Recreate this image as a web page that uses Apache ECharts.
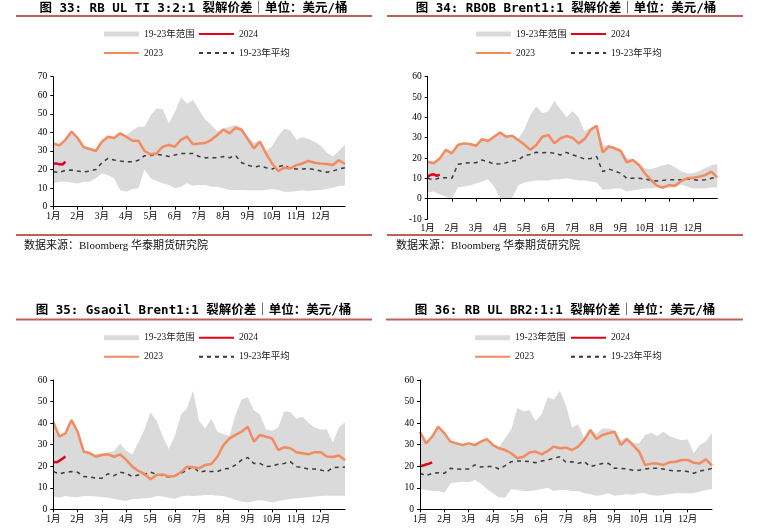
<!DOCTYPE html>
<html>
<head>
<meta charset="utf-8">
<script src="https://cdn.jsdelivr.net/npm/echarts@6/dist/echarts.min.js"></script>
<style>
html,body{margin:0;padding:0;background:#fff;}
#main{width:763px;height:528px;}
</style>
</head>
<body>
<div id="main"></div>
<script>
// ---------- data (x step: quarter month, 1月 = 0) ----------
const monthLabels = ['1月','2月','3月','4月','5月','6月','7月','8月','9月','10月','11月','12月'];
const STEP = 0.25;      // 19-23 range / average / 2023
const STEP24 = 0.125;   // 2024

const titles = [
  '图 33: RB UL TI 3:2:1 裂解价差｜单位：美元/桶',
  '图 34: RBOB Brent1:1 裂解价差｜单位：美元/桶',
  '图 35: Gsaoil Brent1:1 裂解价差｜单位：美元/桶',
  '图 36: RB UL BR2:1:1 裂解价差｜单位：美元/桶'
];
const sourceText = '数据来源：Bloomberg 华泰期货研究院';
const seriesNames = ['19-23年范围', '2024', '2023', '19-23年平均'];

// Panel 1: RB UL TI 3:2:1
const p1Upper = [34.5,33.5,36.5,41,37.5,33,32,31,35.5,38,37.5,40,38.5,41,43,43,49,53,52.5,45,51,59,55.5,57.5,52,47,44,40.5,42,43,44,42.5,38,34.5,35.5,30,32.5,38,42,41,36,37.5,36.5,35,33,29,27,30,33.5];
const p1Lower = [12.5,13.5,13.5,13,12.5,13.5,13.5,15.3,18,17,15.3,9,8.1,9.5,9.9,20,15.3,13.8,12.6,11.7,9.9,10.8,12.6,11.3,11.7,11.7,10.8,10.8,9.9,9,9,9,8.8,8.8,8.8,9,9.5,9,8.1,8.1,8.4,8.8,8.4,8.8,9,9.5,10.2,11.3,11.3];
const p1Avg = [18.8,18.5,19.6,19.7,19.2,18.8,19.2,20,23.7,26,25.1,24.6,24.2,24.2,25,27.5,27.5,28.2,27.8,27,27.8,28.7,28.7,28.7,27,26.4,26.4,26.4,27,26.4,27.5,23.7,22.4,21.4,21.9,21,20.3,21.5,22.4,20.6,20.3,20.3,20.6,20,19.2,18.5,19.2,20.3,21];
const p1Y2023 = [34,33,36,40.5,37,32,31,30,35,37.7,37,39.5,37.7,35.5,35.5,30,28.2,28.7,32.3,33.2,32.3,36,37.7,33.6,34,34.3,36,38.6,41.6,39.5,42.5,41.3,36.4,31.4,35,28.7,23.3,19.2,21,20.6,22.4,23.3,24.6,23.7,23.3,23,22.4,25,23];
const p1Y2024 = [23.2,23.3,22.8,22.7,24.2];

// Panel 2: RBOB Brent 1:1
const p2Upper = [18.5,18,20,24.5,23,27,27.5,27.5,26.5,29.5,29,31,33,31,31.5,29.5,34,41,45.5,42,43,48,44,40,43,40,33,35,36.5,26,26.5,25.5,24.5,20,19.5,17.5,15,14.5,15.5,16.5,17,15.5,13.5,12.5,12.5,13.5,15,16.5,17];
const p2Lower = [3,3.5,2,1,0,5.5,6,6.5,7.5,8.5,9.5,6,0.3,0,0.5,6.5,8,8.5,9,9,9,9.5,9.5,10,9.5,9,9,8.5,8,4.5,4.5,5,5,3.5,4,4.5,5,5,5.5,5,5.5,5.5,7,6,5,5,5,5.5,5.5];
const p2Avg = [10,9.2,10.3,10.3,10,16.9,17.4,17.7,17.7,19,18.2,17,17.2,17.7,18.5,19,21.1,21.8,22.8,22.6,22.8,22.3,21.5,22.8,21.5,20.7,19.5,19.8,20.7,13.3,14.6,13.6,12.5,10,10,10,9.7,9,8.7,9,9.3,9.3,9.3,9.7,9.3,9,9.3,10,10.8];
const p2Y2023 = [18.2,17.4,19.8,24,22.3,26.4,27.2,26.9,26,29.3,28.4,30.5,32.5,30.5,31,28.9,26.7,24,26.4,30.5,31.3,27.2,29.7,30.8,30,27.2,29.3,33.8,35.9,22.8,25.6,24.8,23.4,17.9,19,16.6,12.5,9.2,6.4,5.4,6.7,6.4,8.7,10,10.3,10.8,11.6,13.3,10.5];
const p2Y2024 = [10.8,11.8,12,11.2,11.8];

// Panel 3: Gasoil Brent 1:1
const p3Upper = [40.5,34,35.5,41.5,36.5,27,26.5,25.5,26,26.5,27,30.5,27,25.5,31,37,45,41,34,28,34,44,47,55,41,37.5,42,36,35,34,44,51,52,46,44,37,36.5,38,45.5,45,42,43,40,38,37,37,31,38,40.5];
const p3Lower = [5.9,5.4,6.2,5.7,5.6,6.2,6.2,5.9,5.7,5.4,4.8,4.3,3.9,4.8,4.8,5.1,5.4,6.2,5.9,5.4,4.8,5.9,6.3,6.2,6.3,6.6,6.6,6.3,6.2,5.4,4.3,3.6,3.2,3.9,4.3,3.9,3.2,3.9,4.3,4.8,5.1,5.4,5.6,5.9,6.2,6.3,6.3,6.3,6.3];
const p3Avg = [17.5,16.4,17.2,17.5,17.2,15.2,15,14.4,14.4,16.5,15.6,17.2,16.7,15.2,15.9,16.2,17.2,16.2,15.6,15,15.6,16.7,18.2,19.8,17.2,17.8,17.5,17.5,18.7,19,20.6,22.9,24,21.3,21.3,19.8,20.1,20.9,21.3,22.1,19.8,19.3,18.7,18.7,18.2,17.5,19.3,19.5,19.5];
const p3Y2023 = [40.4,33.7,35.3,41.4,36,26.8,26,24.4,25.2,25.5,24.4,25.5,22.9,19.8,17.8,16.4,13.9,15.9,16.2,15.2,15.5,17.2,19.8,19.5,19,20.6,21,24.4,29.8,32.9,34.5,36,38.3,31.4,34.5,33.7,32.9,27.5,28.8,28.3,26.5,26,25.5,26.5,26.5,24.5,24.3,25,22.8];
const p3Y2024 = [22,21.8,22.5,23.5,24.5];

// Panel 4: RB UL BR 2:1:1
const p4Upper = [36.5,31,34,38.5,35.5,32,31,30.5,31,30.5,31.5,33,30,29,33,37,47,45.5,46,41,44,52,51,55,48,38,39.5,33,37,35,37.5,37.5,36.5,32,33.5,31,30.5,34.5,35.5,34,36,34,33,32,32.5,26,30,31.5,35.5];
const p4Lower = [9.4,9,8.5,8.5,7.7,12,12.5,12.8,12.5,13.6,12,9.4,7.4,5.5,5.5,9.4,9,8.5,8.5,8.8,9.4,10,8.5,9,9,8.5,8.5,7.4,7,6.3,6.6,7.4,6.3,6.6,7,6.6,7.4,7.4,6.6,6.3,6.6,7,7.4,7.4,7.4,7.4,8.2,9,9.4];
const p4Avg = [16.7,15.6,16.7,17,16.7,19,18.7,18.6,18.7,20.6,19.6,19.8,19.9,18.7,20.3,22.1,22.4,22.4,22.1,21.6,22.4,22.9,23.7,24.4,21.8,22.1,21.3,22.1,19.8,20.6,21.3,21.3,19,19,18.7,18.1,18.1,18.7,19,19,18.7,18.1,17.8,17.9,17.5,16.7,17.8,18.2,19];
const p4Y2023 = [36,30.6,33.7,38.3,35.3,31.4,30.6,29.8,30.6,29.8,31.4,32.6,29.8,28.3,27.5,26,23.7,24.4,26.4,26.8,25.5,27.1,29.1,28.3,28.6,27.5,29.1,32.2,36.8,32.6,34.5,35.3,36,29.8,32.6,29.8,26.8,20.6,21.2,21.2,20.6,21.8,22.1,22.9,22.9,21.6,21.3,23.2,20.3];
const p4Y2024 = [20,20.3,20.8,21.2,21.8];

const yRanges = [[0,70],[-10,60],[0,60],[0,60]];

// ---------- layout / style ----------
const panels = [
  {upper:p1Upper, lower:p1Lower, avg:p1Avg, y23:p1Y2023, y24:p1Y2024,
   grid:{left:53.3, top:76.7, width:291.7, height:130},
   legA:{left:103, top:28}, legB:{left:198, top:28}},
  {upper:p2Upper, lower:p2Lower, avg:p2Avg, y23:p2Y2023, y24:p2Y2024,
   grid:{left:427.7, top:76.7, width:289.6, height:142.3},
   legA:{left:475, top:28}, legB:{left:570, top:28}},
  {upper:p3Upper, lower:p3Lower, avg:p3Avg, y23:p3Y2023, y24:p3Y2024,
   grid:{left:53.3, top:380, width:291.7, height:129.3},
   legA:{left:103, top:331.7}, legB:{left:198, top:331.7}},
  {upper:p4Upper, lower:p4Lower, avg:p4Avg, y23:p4Y2023, y24:p4Y2024,
   grid:{left:420, top:380, width:292, height:129.3},
   legA:{left:474, top:331.7}, legB:{left:570, top:331.7}}
];

const C_BAND = '#DADADA', C_2023 = '#F28B60', C_2024 = '#E2001A', C_AVG = '#3A3A3A', C_RULE = '#C0605A';
const AX_FONT = '"Liberation Serif", "Noto Sans CJK SC", serif';
const TITLE_FONT = 'bold 12.5px "DejaVu Sans Mono", "Noto Sans CJK SC", monospace';

const pts = (arr, step) => arr.map((v, i) => [i * step, v]);
const monthIdx = monthLabels.map((_, i) => i);

const grids = [], xAxes = [], yAxes = [], series = [], legends = [];
panels.forEach((p, k) => {
  grids.push(Object.assign({containLabel:false}, p.grid));
  xAxes.push({
    type:'value', gridIndex:k, min:0, max:12, interval:1, z:5,
    axisLine:{show:true, onZero:true, lineStyle:{color:'#000', width:1}},
    axisTick:{show:true, length:3, customValues:monthIdx, lineStyle:{color:'#000'}},
    axisLabel:{show:true, customValues:monthIdx, formatter:v => monthLabels[Math.round(v)] || '',
      color:'#000', fontSize:9.5, fontFamily:AX_FONT, margin:5},
    splitLine:{show:false}
  });
  yAxes.push({
    type:'value', gridIndex:k, min:yRanges[k][0], max:yRanges[k][1], interval:10, z:5,
    axisLine:{show:true, onZero:false, lineStyle:{color:'#000', width:1}},
    axisTick:{show:true, length:3, lineStyle:{color:'#000'}},
    axisLabel:{color:'#000', fontSize:9.5, fontFamily:AX_FONT, margin:6},
    splitLine:{show:false}
  });
  const base = {type:'line', xAxisIndex:k, yAxisIndex:k, symbol:'none', showSymbol:false, smooth:false, animation:false};
  series.push(Object.assign({}, base, {name:seriesNames[0], data:pts(p.upper, STEP), color:C_BAND,
    itemStyle:{color:C_BAND}, lineStyle:{width:0, opacity:0}, areaStyle:{color:C_BAND, opacity:1}, silent:true}));
  series.push(Object.assign({}, base, {name:'_lower', data:pts(p.lower, STEP), color:'#fff',
    lineStyle:{width:0, opacity:0}, areaStyle:{color:'#fff', opacity:1}, silent:true}));
  series.push(Object.assign({}, base, {name:seriesNames[3], data:pts(p.avg, STEP), color:C_AVG,
    lineStyle:{color:C_AVG, width:1.5, type:[4,4]}}));
  series.push(Object.assign({}, base, {name:seriesNames[2], data:pts(p.y23, STEP), color:C_2023,
    lineStyle:{color:C_2023, width:2.5}}));
  series.push(Object.assign({}, base, {name:seriesNames[1], data:pts(p.y24, STEP24), color:C_2024,
    lineStyle:{color:C_2024, width:2.5}}));
  const legBase = {orient:'vertical', padding:0, itemWidth:35, itemHeight:5, itemGap:7, selectedMode:false,
    itemStyle:{opacity:0},
    textStyle:{fontSize:9.5, lineHeight:12, color:'#222', fontFamily:AX_FONT}};
  legends.push(Object.assign({}, legBase, p.legA, {data:[
    {name:seriesNames[0], icon:'rect', itemStyle:{color:C_BAND, opacity:1}}, {name:seriesNames[2]}]}));
  legends.push(Object.assign({}, legBase, p.legB, {data:[{name:seriesNames[1]}, {name:seriesNames[3]}]}));
});

const graphics = [];
const titlePos = [[193.5, 8.5], [566, 8.5], [193.5, 310.5], [565, 310.5]];
titlePos.forEach((t, k) => graphics.push({type:'text', x:t[0], y:t[1], silent:true,
  style:{text:titles[k], font:TITLE_FONT, fill:'#000', align:'center', verticalAlign:'middle'}}));
const rules = [[16,16,372],[387,16,743],[16,319.5,372],[386,319.5,743],[16,235,372],[387,235,743]];
rules.forEach(r => graphics.push({type:'line', silent:true, shape:{x1:r[0], y1:r[1], x2:r[2], y2:r[1]},
  style:{stroke:C_RULE, lineWidth:2}}));
[[24,246],[396,246.5]].forEach(s => graphics.push({type:'text', x:s[0], y:s[1], silent:true,
  style:{text:sourceText, font:'11px "Liberation Serif", "Noto Sans CJK SC", serif', fill:'#111', align:'left', verticalAlign:'middle'}}));

const chart = echarts.init(document.getElementById('main'), null, {renderer:'canvas'});
chart.setOption({
  animation:false,
  backgroundColor:'#fff',
  grid:grids, xAxis:xAxes, yAxis:yAxes, series:series, legend:legends, graphic:graphics
});
</script>
</body>
</html>
